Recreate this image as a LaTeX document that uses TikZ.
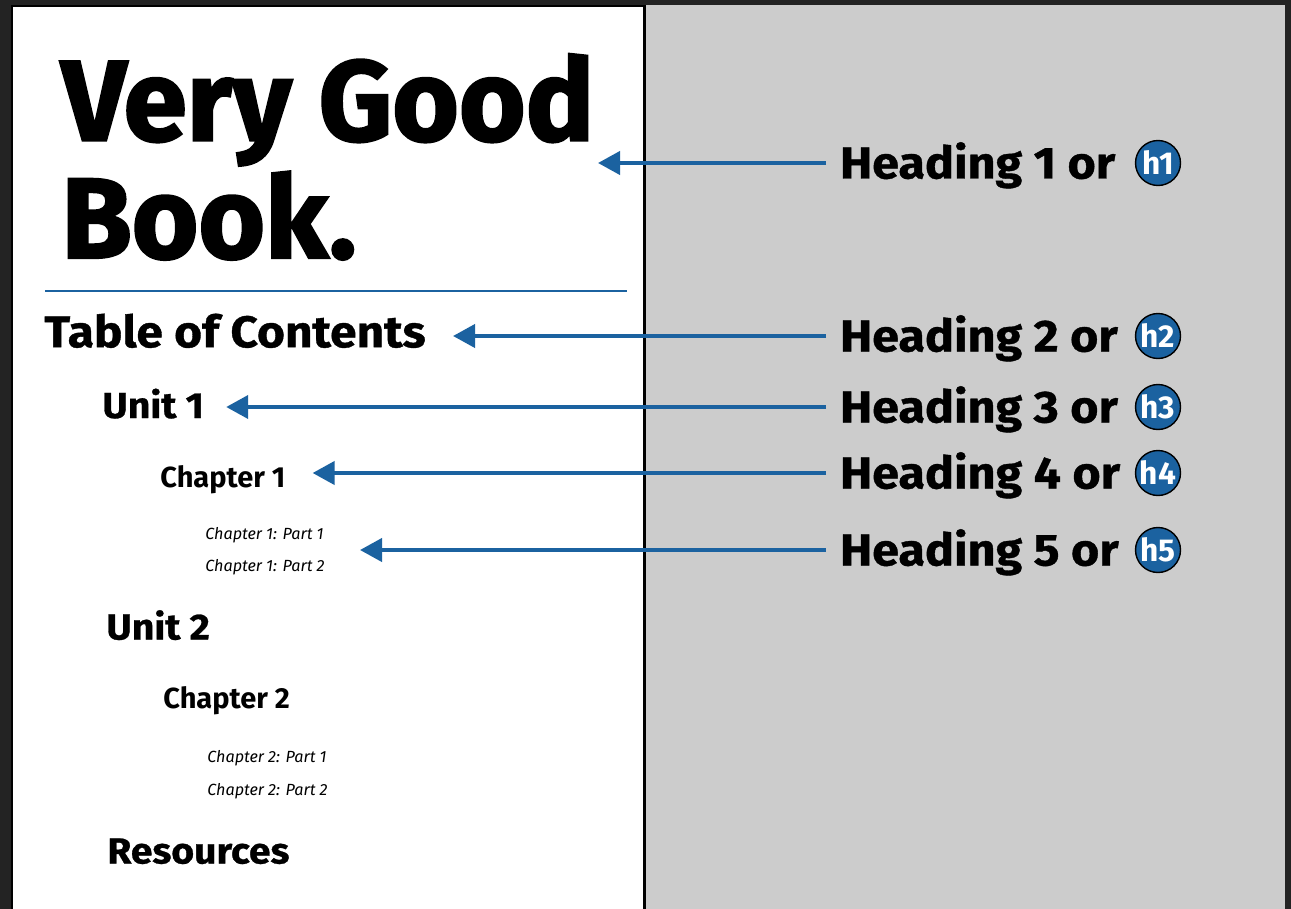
\documentclass[tikz,border=0pt]{standalone}
\usepackage{fontspec}
\setmainfont{Fira Sans}
\newfontfamily\heavyfont{Fira Sans}[BoldFeatures={FakeBold=2}]
\newfontfamily\widefont{Fira Sans}[FakeStretch=1.08, BoldFeatures={FakeBold=0.8}]
\usetikzlibrary{arrows.meta,positioning}
\definecolor{framedark}{HTML}{232323}
\definecolor{pagegrey}{HTML}{CCCCCC}
\definecolor{tagblue}{HTML}{1B62A0}
\begin{document}
\begin{tikzpicture}[
  x=0.02cm, y=-0.02cm,
  every node/.style={inner sep=0pt, anchor=west, text depth=0pt},
  bigtitle/.style={font=\heavyfont\bfseries\fontsize{65}{70}\selectfont, text height=1.56cm},
  contentsline/.style={font=\widefont\bfseries\fontsize{25.2}{30}\selectfont, text height=0.63cm},
  unitline/.style={font=\widefont\bfseries\fontsize{20.6}{24}\selectfont, text height=0.5cm},
  chapline/.style={font=\bfseries\fontsize{16.5}{20}\selectfont, text height=0.4cm},
  partline/.style={font=\itshape\fontsize{9.2}{11}\selectfont, text height=0.22cm},
  lab/.style={font=\widefont\bfseries\fontsize{25.5}{30}\selectfont, text height=0.62cm, outer xsep=0.28cm},
  tag/.style={circle, draw=black, line width=0.8pt, fill=tagblue, text=white,
    minimum size=0.9cm, anchor=center, text height=, text depth=,
    font=\bfseries\fontsize{18}{20}\selectfont},
  arr/.style={draw=tagblue, line width=2.3pt, -{Triangle[length=0.44cm,width=0.46cm]}}
]
\useasboundingbox (0,0) rectangle (1291,909);
\fill[framedark] (0,0) rectangle (1291,909);
\fill[pagegrey] (645,5) rectangle (1285,909);
\fill[black] (11,5) rectangle (646,909);
\fill[white] (13,7) rectangle (643,909);

% the page
\node[bigtitle] (title1) at (61,101.5) {Very Good};
\node[bigtitle] (title2) at (61,219) {Book.};
\draw[tagblue, line width=1.7pt] (45,291) -- (627,291);
\node[contentsline] (contents) at (44,331.5) {Table of Contents};
\node[unitline] (unit1) at (102,405.5) {Unit 1};
\node[chapline] (chap1) at (160,477) {Chapter 1};
\node[partline] (part11) at (205,533.5) {Chapter 1: Part 1};
\node[partline] (part12) at (205,566) {Chapter 1: Part 2};
\node[unitline] (unit2) at (106,627) {Unit 2};
\node[chapline] (chap2) at (163,698) {Chapter 2};
\node[partline] (part21) at (207,756.5) {Chapter 2: Part 1};
\node[partline] (part22) at (207,789.5) {Chapter 2: Part 2};
\node[unitline] (resources) at (107,851) {Resources};

% the labels
\node[lab] (lab1) at (826,163) {Heading 1 or};
\node[lab] (lab2) at (826,336) {Heading 2 or};
\node[lab] (lab3) at (826,407) {Heading 3 or};
\node[lab] (lab4) at (826,473) {Heading 4 or};
\node[lab] (lab5) at (826,550) {Heading 5 or};
\node[tag] (h1) at (1158,163) {h1};
\node[tag] (h2) at (1158,336) {h2};
\node[tag] (h3) at (1158,407) {h3};
\node[tag] (h4) at (1158,473) {h4};
\node[tag] (h5) at (1158,550) {h5};

% arrows
\coordinate (tip1) at (598,163);
\coordinate (tip5) at (360,550);
\draw[arr] (lab1.west) -- (tip1);
\draw[arr, shorten >=0.54cm] (lab2.west) -- (contents.east |- lab2.west);
\draw[arr, shorten >=0.44cm] (lab3.west) -- (unit1.east |- lab3.west);
\draw[arr, shorten >=0.54cm] (lab4.west) -- (chap1.east |- lab4.west);
\draw[arr] (lab5.west) -- (tip5);
\end{tikzpicture}
\end{document}
